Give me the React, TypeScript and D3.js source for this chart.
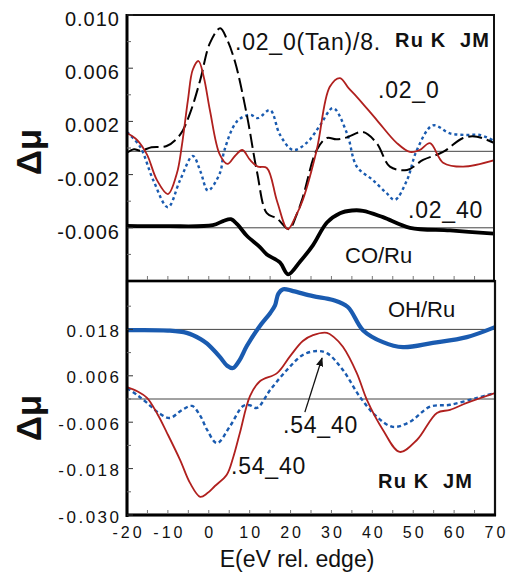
import React from "react";
import * as d3 from "d3";

// Δμ spectra, values in units of 1e-3 (energy in eV relative to the edge)
const E_TICKS = [-20, -10, 0, 10, 20, 30, 40, 50, 60, 70];
const TOP_LABEL_TICKS = [10, 6, 2, -2, -6];
const TOP_MINOR_TICKS = [8, 4, 0, -4, -8];
const BOT_LABEL_TICKS = [18, 6, -6, -18, -30];
const BOT_MINOR_TICKS = [24, 12, 0, -12, -24];
const TOP_REF_LINES = [-0.25, -6];
const BOT_REF_LINES = [18, 0];

type Pt = [number, number];

// top panel: .02_0 (solid red)
const top020: Pt[] = [
  [-20, 1.13], [-17.5, 0.6], [-15.1, -0.5], [-12.7, -2.4], [-10, -3.46], [-7.8, -1.9],
  [-6.6, 0.15], [-5.1, 3.6], [-3.9, 5.9], [-2.5, 6.54], [-1.2, 5.3], [0.3, 2.8],
  [2.7, -0.5], [4.6, -1.2], [6.4, -0.6], [8.2, -0.15], [10.1, -0.9], [12, -1.4],
  [14.2, -1.5], [16.7, -4.0], [19.3, -6.1], [21.3, -5.1], [23, -3.9], [26.4, -0.15],
  [29.6, 4.6], [32.1, 5.26], [34.2, 4.5], [36.2, 3.85], [41.1, 2.1], [46, 0.37],
  [49.2, -0.3], [51.6, -0.15], [54.1, 0.37], [57.3, -1.1], [62.2, -1.4], [70, -0.9],
];
// top panel: .02_0(Tan)/8. (long dashes)
const top020Tan: Pt[] = [
  [-20, -0.35], [-18.3, -0.1], [-16.6, -0.2], [-14, 0.05], [-10.3, 0.15], [-7, 1.0],
  [-4.6, 2.6], [-2.1, 5.1], [0.3, 7.9], [2.8, 9.0], [4.4, 8.2], [6.4, 6.5],
  [9.3, 2.5], [11.8, -1.8], [14.2, -4.9], [16.7, -5.3], [19.6, -6.1], [21.5, -5.0],
  [23, -3.7], [26.4, -0.15], [28.9, 0.75], [31.2, 0.65], [33.8, 0.8], [37.7, 1.2],
  [41.1, 0.35], [44.3, -1.4], [48.5, -1.65], [52.4, -0.9], [57.3, -0.3], [62.2, 0.75],
  [65.6, 0.85], [70, 0.35],
];
// top panel: .02_40 (blue dots)
const top0240: Pt[] = [
  [-20, 1.2], [-16.8, 0.1], [-13.6, -2.4], [-10, -4.45], [-7, -2.4], [-3.9, -0.6],
  [-2, -1.8], [-0.2, -3.2], [2.7, -1.9], [3.8, -0.2], [6.9, 2.0], [10.1, 2.5],
  [12, 2.25], [15, 2.85], [17.4, 1.0], [20.6, -0.15], [24, 0.4], [27.2, 1.7],
  [30.4, 3.0], [33.8, 1.1], [36.2, -1.4], [40.1, -2.4], [43.5, -3.4], [45.5, -3.9],
  [48.5, -2.4], [50.9, -0.15], [54.8, 1.7], [59, 1.1], [63.1, 0.98], [66.3, 0.98],
  [70, 0.5],
];
// top panel: CO/Ru (thick black)
const topCO: Pt[] = [
  [-20, -5.85], [-10, -5.88], [1, -5.8], [3.5, -5.5], [5.4, -5.35], [7, -5.75],
  [9.3, -6.6], [12.5, -7.45], [14.2, -8.0], [17.4, -8.6], [19.4, -9.5], [22.3, -8.55],
  [25.5, -7.3], [28.9, -5.6], [32.1, -4.9], [35, -4.7], [37.7, -4.72], [42.6, -5.2],
  [49.2, -6.0], [59, -6.2], [70, -6.45],
];

// bottom panel: OH/Ru (thick blue)
const botOH: Pt[] = [
  [-20, 17.8], [-10, 17.7], [-5.4, 17.1], [-2, 15.5], [-0.4, 14.3], [2.7, 10.9],
  [4.5, 8.6], [5.9, 8.0], [7.5, 10.0], [9.3, 13.7], [12.5, 18.9], [15, 22.2],
  [16.2, 24.2], [17, 27.2], [18.2, 28.4], [20.6, 27.9], [25.5, 26.6], [30.4, 25.6],
  [34, 23.8], [37.7, 17.8], [42.6, 14.7], [47.5, 13.4], [54.8, 14.5], [63.1, 16.0],
  [70, 18.6],
];
// bottom panel: .54_40 (solid red)
const bot5440: Pt[] = [
  [-20, 3.1], [-17.5, 2.0], [-15.1, 0.3], [-12.5, -4], [-10.2, -8.8], [-7, -15.8],
  [-4.6, -21.7], [-2.1, -25.3], [-0.4, -24.4], [1.5, -22.5], [4.4, -19.6], [6, -15],
  [7.6, -8.8], [10.1, 0.8], [12.5, 4.6], [16.7, 6.7], [19.9, 11.1], [23, 15],
  [25.5, 16.5], [28.9, 17.1], [30.6, 16], [32.8, 13.5], [36.2, 6.7], [38.7, -0.3],
  [42.6, -8.0], [46.7, -13.7], [50.9, -10.6], [55.8, -3.6], [59, -2.8], [63.1, -1.0],
  [70, 1.55],
];
// bottom panel: .54_40 (blue dots)
const bot5440b: Pt[] = [
  [-20, 2.85], [-17.5, 1.0], [-15.1, -1.0], [-12, -3.8], [-9.5, -4.9], [-6.5, -2.8],
  [-4.1, -1.8], [-2, -4.5], [-0.4, -8.0], [2, -11.4], [5.2, -7.0], [8.4, -1.8],
  [10, -1.6], [11.8, -2.3], [15, 2.3], [19.1, 7.5], [23, 11.4], [26.4, 12.4],
  [29, 11.8], [32.8, 7.5], [37, 0.5], [41.1, -4.6], [45, -7.2], [49.2, -5.9],
  [54.1, -2.0], [59, -1.5], [65.6, 0.3], [70, 1.55],
];

// arrow from label to the dotted .54_40 peak
const ARROW_FROM: Pt = [23.5, -3.4];
const ARROW_TO: Pt = [27.7, 10.6];

const RED = "#b0201e";
const BLUE = "#1a5bb0";
const FONT = "'Liberation Sans', Arial, Helvetica, sans-serif";

const L = 127;
const R = 494;

export default function App() {
  const x = d3.scaleLinear().domain([-20, 70]).range([L, R + 1]);
  const yTop = d3.scaleLinear().domain([-10, 10]).range([281, 15]);
  const yBot = d3.scaleLinear().domain([-30, 30]).range([515, 283]);

  const lineTop = d3
    .line<Pt>()
    .x((d) => x(d[0]))
    .y((d) => yTop(d[1]))
    .curve(d3.curveCatmullRom.alpha(0.5));
  const lineBot = d3
    .line<Pt>()
    .x((d) => x(d[0]))
    .y((d) => yBot(d[1]))
    .curve(d3.curveCatmullRom.alpha(0.5));

  const fiveTicks = d3.range(-15, 70, 5);
  const fmt = (v: number) => (v / 1000).toFixed(3);

  return (
    <svg width={507} height={575} style={{ display: "block", position: "absolute", left: 0, top: 0 }}>
      <rect width={507} height={575} fill="#fff" />
      <defs>
        <marker id="arrowHead" viewBox="0 0 10 10" refX="9" refY="5" markerWidth="7" markerHeight="7" orient="auto">
          <path d="M0,1 L10,5 L0,9 Z" fill="#111" />
        </marker>
        <clipPath id="clipTop">
          <rect x={L} y={15} width={R - L} height={266} />
        </clipPath>
        <clipPath id="clipBot">
          <rect x={L} y={281} width={R - L + 1} height={234} />
        </clipPath>
      </defs>

      {/* reference lines */}
      {TOP_REF_LINES.map((v) => (
        <line key={"tr" + v} x1={L} x2={R} y1={yTop(v)} y2={yTop(v)} stroke="#444" strokeWidth={1} />
      ))}
      {BOT_REF_LINES.map((v) => (
        <line key={"br" + v} x1={L} x2={R + 1} y1={yBot(v)} y2={yBot(v)} stroke="#444" strokeWidth={1} />
      ))}

      {/* top panel curves */}
      <g clipPath="url(#clipTop)" fill="none">
        <path d={lineTop(topCO) || ""} stroke="#000" strokeWidth={3.8} strokeLinejoin="round" />
        <path d={lineTop(top0240) || ""} stroke={BLUE} strokeWidth={2.4} strokeDasharray="3 3" />
        <path d={lineTop(top020Tan) || ""} stroke="#000" strokeWidth={2} strokeDasharray="14 5" />
        <path d={lineTop(top020) || ""} stroke={RED} strokeWidth={1.8} />
      </g>

      {/* bottom panel curves */}
      <g clipPath="url(#clipBot)" fill="none">
        <path d={lineBot(botOH) || ""} stroke={BLUE} strokeWidth={4.2} strokeLinejoin="round" />
        <path d={lineBot(bot5440b) || ""} stroke={BLUE} strokeWidth={2.4} strokeDasharray="4 3" />
        <path d={lineBot(bot5440) || ""} stroke={RED} strokeWidth={1.8} />
      </g>

      {/* frames */}
      <rect x={L} y={15} width={R - L} height={266} fill="none" stroke="#111" strokeWidth={2} />
      <rect x={L} y={281} width={R - L + 1} height={234} fill="none" stroke="#111" strokeWidth={2.2} />
      <line x1={L} x2={L} y1={14} y2={517} stroke="#000" strokeWidth={3} />
      <line x1={L - 1} x2={R + 2} y1={515} y2={515} stroke="#000" strokeWidth={3} />
      <line x1={L} x2={R + 1} y1={281} y2={281} stroke="#000" strokeWidth={2.6} />

      {/* left ticks */}
      {TOP_LABEL_TICKS.map((v) => (
        <line key={"tt" + v} x1={L} x2={L + 6} y1={yTop(v)} y2={yTop(v)} stroke="#333" strokeWidth={1} />
      ))}
      {TOP_MINOR_TICKS.map((v) => (
        <line key={"tm" + v} x1={L} x2={L + 4} y1={yTop(v)} y2={yTop(v)} stroke="#666" strokeWidth={1} />
      ))}
      {BOT_LABEL_TICKS.map((v) => (
        <line key={"bt" + v} x1={L} x2={L + 6} y1={yBot(v)} y2={yBot(v)} stroke="#333" strokeWidth={1} />
      ))}
      {BOT_MINOR_TICKS.map((v) => (
        <line key={"bm" + v} x1={L} x2={L + 4} y1={yBot(v)} y2={yBot(v)} stroke="#666" strokeWidth={1} />
      ))}
      {/* energy ticks on both panels */}
      {fiveTicks.map((e) => (
        <g key={"et" + e}>
          <line x1={x(e)} x2={x(e)} y1={280} y2={276} stroke="#777" strokeWidth={1} />
          <line x1={x(e)} x2={x(e)} y1={514} y2={510} stroke="#777" strokeWidth={1} />
        </g>
      ))}

      {/* tick labels */}
      <g fontFamily={FONT} fill="#111">
        {TOP_LABEL_TICKS.map((v) => (
          <text key={"tl" + v} x={120} y={yTop(v) + 11} fontSize={20} letterSpacing={1} textAnchor="end">
            {fmt(v)}
          </text>
        ))}
        {BOT_LABEL_TICKS.map((v) => (
          <text key={"bl" + v} x={121.5} y={yBot(v) + 7.5} fontSize={17} letterSpacing={2.5} textAnchor="end">
            {fmt(v)}
          </text>
        ))}
        {E_TICKS.map((e) => (
          <text key={"el" + e} x={x(e) + 1.5} y={538} fontSize={16} letterSpacing={3} textAnchor="middle">
            {e}
          </text>
        ))}
        <text x={297} y={567} fontSize={23} textAnchor="middle">
          E(eV rel. edge)
        </text>
        <text transform="translate(41,152) rotate(-90)" fontSize={35} fontWeight="bold" textAnchor="middle">
          Δμ
        </text>
        <text transform="translate(41,418) rotate(-90)" fontSize={35} fontWeight="bold" textAnchor="middle">
          Δμ
        </text>
      </g>

      {/* series labels */}
      <g fontFamily={FONT} fill="#111">
        <text x={235} y={50} fontSize={23} letterSpacing={0.8}>.02_0(Tan)/8.</text>
        <text x={395} y={47} fontSize={20} fontWeight="bold" letterSpacing={1.2} style={{ whiteSpace: "pre" }}>
          {"Ru K  JM"}
        </text>
        <text x={378} y={98} fontSize={23} letterSpacing={0.8}>.02_0</text>
        <text x={408} y={218} fontSize={23} letterSpacing={0.8}>.02_40</text>
        <text x={345} y={263} fontSize={22}>CO/Ru</text>
        <text x={388} y={317} fontSize={22}>OH/Ru</text>
        <text x={283} y={433} fontSize={23} letterSpacing={0.8}>.54_40</text>
        <text x={231} y={474} fontSize={23} letterSpacing={0.8}>.54_40</text>
        <text x={378} y={488} fontSize={20} fontWeight="bold" letterSpacing={1.2} style={{ whiteSpace: "pre" }}>
          {"Ru K  JM"}
        </text>
      </g>

      <line
        x1={x(ARROW_FROM[0])}
        y1={yBot(ARROW_FROM[1])}
        x2={x(ARROW_TO[0])}
        y2={yBot(ARROW_TO[1])}
        stroke="#111"
        strokeWidth={1.3}
        markerEnd="url(#arrowHead)"
      />
    </svg>
  );
}
